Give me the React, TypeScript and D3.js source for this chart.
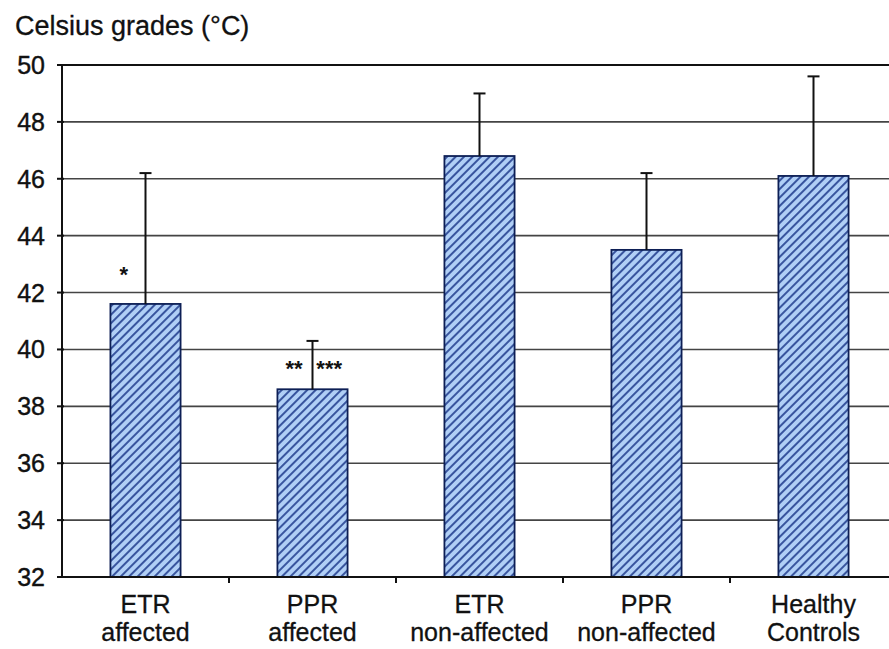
import React from "react";
import * as d3 from "d3";

const categories: string[][] = [
  ["ETR", "affected"],
  ["PPR", "affected"],
  ["ETR", "non-affected"],
  ["PPR", "non-affected"],
  ["Healthy", "Controls"],
];
const means: number[] = [41.6, 38.6, 46.8, 43.5, 46.1];
const upperErrors: number[] = [46.2, 40.3, 49.0, 46.2, 49.6];
const yTicks: number[] = [32, 34, 36, 38, 40, 42, 44, 46, 48, 50];
// significance marks: [category index, text, x offset from bar centre in band units, value height]
const marks: { idx: number; text: string; dx: number; at: number }[] = [
  { idx: 0, text: "*", dx: -0.13, at: 42.85 },
  { idx: 1, text: "**", dx: -0.11, at: 39.55 },
  { idx: 1, text: "***", dx: 0.1, at: 39.55 },
];

const W = 889;
const H = 649;
const margin = { left: 62, top: 65, right: -8, bottom: 72 };

export default function App() {
  const x = d3
    .scaleBand<number>()
    .domain(d3.range(categories.length))
    .range([margin.left, W - margin.right])
    .paddingInner(0)
    .paddingOuter(0);
  const y = d3
    .scaleLinear()
    .domain([32, 50])
    .range([H - margin.bottom, margin.top]);

  const barW = x.bandwidth() * 0.42;
  const font = "'Liberation Sans', Arial, sans-serif";
  const ink = "#111";

  return (
    <svg
      width={W}
      height={H}
      style={{ position: "absolute", left: 0, top: 0, background: "#fff" }}
      fontFamily={font}
    >
      <defs>
        <pattern
          id="hatch"
          patternUnits="userSpaceOnUse"
          width={6}
          height={6}
          patternTransform="rotate(45)"
        >
          <rect width={6} height={6} fill="#b0cff6" />
          <line x1={1} y1={0} x2={1} y2={6} stroke="#233f8f" strokeWidth={1.7} />
        </pattern>
      </defs>

      {/* title */}
      <text x={15} y={35} fontSize={27} fill={ink} stroke={ink} strokeWidth={0.3}>
        Celsius grades (°C)
      </text>

      {/* horizontal gridlines */}
      {yTicks
        .filter((t) => t > 32)
        .map((t) => (
          <line
            key={t}
            x1={margin.left}
            x2={W}
            y1={y(t)}
            y2={y(t)}
            stroke={t === 50 ? "#111" : "#444"}
            strokeWidth={t === 50 ? 2 : 1.6}
          />
        ))}

      {/* bars */}
      {means.map((m, i) => {
        const cx = (x(i) as number) + x.bandwidth() / 2;
        return (
          <rect
            key={i}
            x={cx - barW / 2}
            y={y(m)}
            width={barW}
            height={y(32) - y(m)}
            fill="url(#hatch)"
            stroke="#0d1f55"
            strokeWidth={1.8}
          />
        );
      })}

      {/* error bars */}
      {upperErrors.map((e, i) => {
        const cx = (x(i) as number) + x.bandwidth() / 2;
        return (
          <g key={i} stroke={ink} strokeWidth={2}>
            <line x1={cx} x2={cx} y1={y(means[i])} y2={y(e)} />
            <line x1={cx - 6} x2={cx + 6} y1={y(e)} y2={y(e)} />
          </g>
        );
      })}

      {/* significance marks */}
      {marks.map((mk, k) => {
        const cx = (x(mk.idx) as number) + x.bandwidth() / 2 + mk.dx * x.bandwidth();
        return (
          <text
            key={k}
            x={cx}
            y={y(mk.at) + 14}
            fontSize={22}
            fontWeight="bold"
            textAnchor="middle"
            fill={ink}
          >
            {mk.text}
          </text>
        );
      })}

      {/* y axis */}
      <line
        x1={margin.left}
        x2={margin.left}
        y1={y(50)}
        y2={y(32)}
        stroke={ink}
        strokeWidth={2}
      />
      {yTicks.map((t) => (
        <g key={t}>
          <line
            x1={margin.left - 5}
            x2={margin.left + 2}
            y1={y(t)}
            y2={y(t)}
            stroke={ink}
            strokeWidth={2}
          />
          <text
            x={45}
            y={y(t)}
            dy="0.36em"
            textAnchor="end"
            fontSize={25}
            fill={ink}
            stroke={ink}
            strokeWidth={0.4}
          >
            {t}
          </text>
        </g>
      ))}

      {/* x axis */}
      <line
        x1={margin.left}
        x2={W}
        y1={y(32)}
        y2={y(32)}
        stroke={ink}
        strokeWidth={2}
      />
      {d3.range(1, categories.length).map((i) => (
        <line
          key={i}
          x1={x(i) as number}
          x2={x(i) as number}
          y1={y(32)}
          y2={y(32) + 6}
          stroke={ink}
          strokeWidth={2}
        />
      ))}
      {categories.map((lines, i) => {
        const cx = (x(i) as number) + x.bandwidth() / 2;
        return (
          <text
            key={i}
            textAnchor="middle"
            fontSize={25}
            fill={ink}
            stroke={ink}
            strokeWidth={0.3}
          >
            {lines.map((l, j) => (
              <tspan key={j} x={cx} y={613 + j * 28}>
                {l}
              </tspan>
            ))}
          </text>
        );
      })}
    </svg>
  );
}
